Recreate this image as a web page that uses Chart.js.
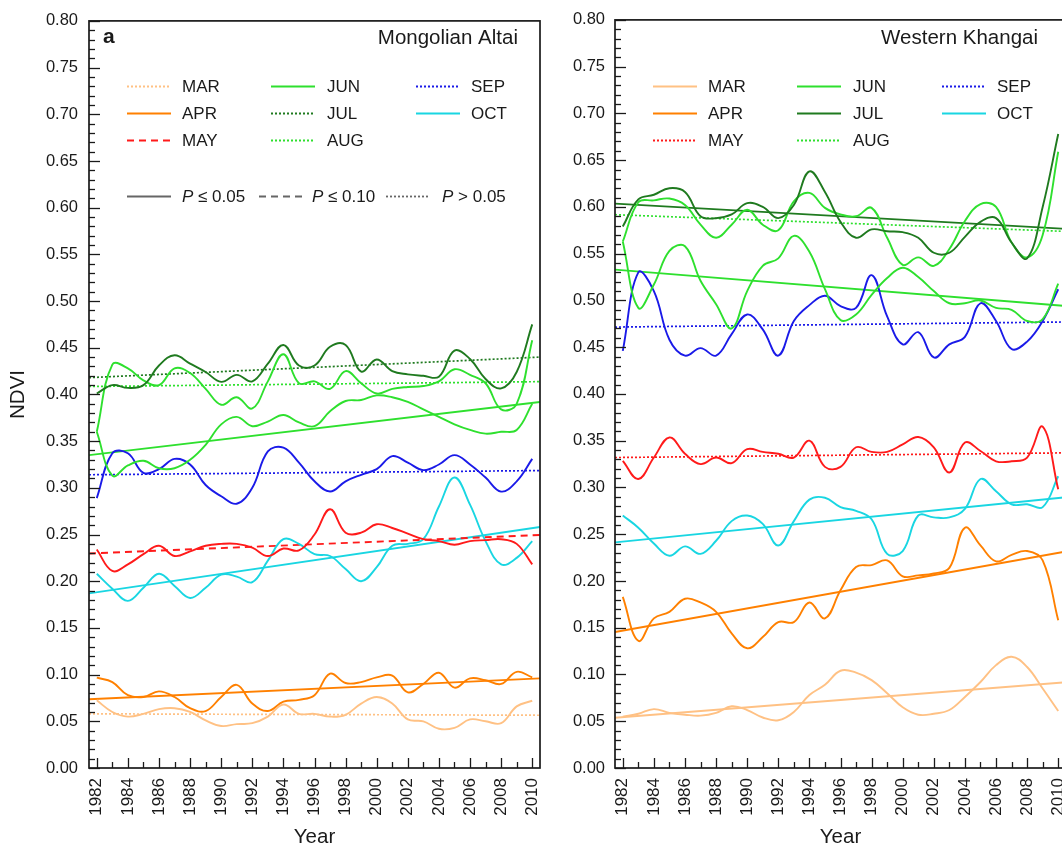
<!DOCTYPE html>
<html><head><meta charset="utf-8">
<script src="https://cdn.jsdelivr.net/npm/chart.js@4.4.1/dist/chart.umd.min.js"></script>
<style>
html,body{margin:0;padding:0;background:#fff;overflow:hidden;width:1062px;height:850px;}
#wa{position:absolute;left:0;top:0;width:570px;height:850px;}
#wb{position:absolute;left:560px;top:0;width:540px;height:850px;}
canvas{display:block;}
</style></head><body>
<div id="wa"><canvas id="ca" width="570" height="850" style="width:570px;height:850px"></canvas></div>
<div id="wb"><canvas id="cb" width="540" height="850" style="width:540px;height:850px"></canvas></div>
<script>
// ---------- DATA ----------
const years = [1982,1983,1984,1985,1986,1987,1988,1989,1990,1991,1992,1993,1994,1995,1996,1997,1998,1999,2000,2001,2002,2003,2004,2005,2006,2007,2008,2009,2010];
const tickYears = [1982,1984,1986,1988,1990,1992,1994,1996,1998,2000,2002,2004,2006,2008,2010];
const months = ['MAR','APR','MAY','JUN','JUL','AUG','SEP','OCT'];

// (a) Mongolian Altai
const marA = [0.0725,0.060,0.055,0.058,0.063,0.064,0.060,0.051,0.045,0.047,0.048,0.055,0.068,0.058,0.058,0.055,0.057,0.069,0.076,0.069,0.052,0.050,0.042,0.043,0.052,0.050,0.048,0.066,0.072];
const aprA = [0.0967,0.092,0.078,0.076,0.082,0.076,0.064,0.061,0.076,0.089,0.069,0.061,0.071,0.073,0.078,0.101,0.091,0.092,0.097,0.099,0.081,0.090,0.102,0.086,0.096,0.094,0.090,0.103,0.097];
const mayA = [0.234,0.211,0.218,0.229,0.238,0.227,0.232,0.238,0.240,0.240,0.236,0.227,0.235,0.233,0.250,0.277,0.252,0.252,0.261,0.257,0.251,0.245,0.243,0.239,0.243,0.244,0.245,0.240,0.218];
const junA = [0.360,0.313,0.324,0.329,0.321,0.321,0.330,0.346,0.368,0.376,0.366,0.371,0.378,0.370,0.366,0.382,0.393,0.394,0.399,0.397,0.392,0.384,0.376,0.368,0.362,0.358,0.360,0.362,0.390];
const julA = [0.401,0.410,0.407,0.410,0.431,0.442,0.433,0.424,0.4135,0.421,0.414,0.433,0.453,0.431,0.431,0.451,0.453,0.4245,0.4375,0.425,0.4215,0.420,0.419,0.447,0.438,0.4165,0.4065,0.424,0.475];
const augA = [0.360,0.432,0.428,0.415,0.410,0.428,0.423,0.406,0.389,0.397,0.385,0.414,0.443,0.412,0.414,0.406,0.425,0.412,0.401,0.406,0.408,0.409,0.414,0.427,0.421,0.412,0.384,0.390,0.458];
const sepA = [0.289,0.337,0.337,0.316,0.320,0.331,0.325,0.303,0.291,0.283,0.300,0.339,0.343,0.327,0.307,0.296,0.307,0.314,0.320,0.334,0.327,0.319,0.325,0.335,0.325,0.311,0.296,0.307,0.331];
const octA = [0.208,0.192,0.179,0.193,0.208,0.195,0.182,0.193,0.207,0.205,0.199,0.222,0.245,0.240,0.229,0.227,0.213,0.200,0.215,0.238,0.240,0.245,0.280,0.311,0.282,0.243,0.218,0.225,0.243];

// (b) Western Khangai
const marB = [0.055,0.058,0.063,0.059,0.057,0.056,0.059,0.066,0.062,0.054,0.051,0.060,0.078,0.089,0.104,0.102,0.094,0.080,0.065,0.057,0.058,0.062,0.076,0.092,0.110,0.119,0.108,0.085,0.061];
const aprB = [0.183,0.136,0.160,0.167,0.181,0.177,0.167,0.144,0.128,0.140,0.156,0.156,0.177,0.160,0.190,0.215,0.217,0.222,0.205,0.206,0.208,0.214,0.257,0.238,0.221,0.228,0.232,0.222,0.158];
const mayB = [0.3285,0.309,0.332,0.3535,0.336,0.325,0.332,0.326,0.341,0.338,0.336,0.332,0.350,0.322,0.322,0.343,0.338,0.338,0.346,0.354,0.343,0.316,0.348,0.339,0.328,0.328,0.332,0.365,0.298];
const junB = [0.563,0.492,0.517,0.553,0.558,0.521,0.496,0.470,0.510,0.537,0.545,0.569,0.552,0.512,0.479,0.485,0.506,0.524,0.535,0.525,0.510,0.497,0.497,0.500,0.492,0.490,0.478,0.480,0.518];
const julB = [0.579,0.608,0.613,0.620,0.616,0.590,0.588,0.592,0.604,0.600,0.588,0.602,0.638,0.616,0.584,0.567,0.576,0.574,0.573,0.567,0.551,0.551,0.568,0.584,0.588,0.562,0.545,0.600,0.678];
const augB = [0.563,0.605,0.607,0.609,0.602,0.581,0.567,0.581,0.597,0.581,0.575,0.606,0.615,0.599,0.592,0.590,0.599,0.567,0.538,0.546,0.537,0.555,0.585,0.603,0.600,0.562,0.546,0.570,0.659];
const sepB = [0.446,0.530,0.510,0.458,0.441,0.449,0.441,0.464,0.485,0.469,0.441,0.478,0.495,0.505,0.494,0.492,0.527,0.483,0.453,0.466,0.439,0.453,0.461,0.497,0.478,0.448,0.456,0.478,0.512];
const octB = [0.270,0.257,0.240,0.227,0.237,0.229,0.243,0.264,0.270,0.261,0.238,0.264,0.287,0.289,0.279,0.275,0.266,0.229,0.232,0.270,0.268,0.268,0.277,0.309,0.296,0.282,0.282,0.279,0.312];

// linear trends (value at the two ends of the year axis) and significance class
const trendYears = [1981.5, 2010.5];
const trendStartA = [0.058,0.0736,0.2297,0.335,0.418,0.4085,0.314,0.187];
const trendEndA   = [0.0565,0.096,0.2495,0.392,0.440,0.4137,0.3185,0.258];
const signifA     = ['ns','s','m','s','ns','ns','ns','s'];
const trendStartB = [0.0537,0.1454,0.332,0.533,0.6035,0.5917,0.4715,0.2413];
const trendEndB   = [0.0917,0.2315,0.337,0.494,0.5765,0.5738,0.477,0.2895];
const signifB     = ['s','s','ns','s','s','ns','ns','s'];
const sigLabels   = [['s','≤ 0.05'],['m','≤ 0.10'],['ns','> 0.05']];

// ---------- STYLE ----------
const colors = ['#FFC184','#FF8000','#FF1A1A','#2EE02E','#1F7A1F','#2EE02E','#1A1AE8','#19D6E2'];
const dashes = { s: [], m: [7,5], ns: [2,2] };
const FONT = "Arial, 'Liberation Sans', Helvetica, sans-serif";
const TXT = '#1a1a1a';

const decor = {
  id: 'decor',
  afterDraw(chart, args, o) {
    const {ctx, chartArea: ca, scales: {x, y}} = chart;
    ctx.save();
    ctx.strokeStyle = TXT; ctx.lineWidth = 1.3;
    for (let v = 0; v <= 80; v++) {
      const py = Math.round(y.getPixelForValue(v / 100)) + 0.5;
      const len = v % 5 === 0 ? 11 : 6;
      ctx.beginPath(); ctx.moveTo(ca.left, py); ctx.lineTo(ca.left + len, py); ctx.stroke();
    }
    for (const yr of years) {
      const px = Math.round(x.getPixelForValue(yr)) + 0.5;
      const len = yr % 2 === 0 ? 10 : 6;
      ctx.beginPath(); ctx.moveTo(px, ca.bottom); ctx.lineTo(px, ca.bottom - len); ctx.stroke();
    }
    ctx.lineWidth = 1.7;
    ctx.strokeRect(ca.left, ca.top, ca.right - ca.left, ca.bottom - ca.top);

    // panel letter and title
    ctx.fillStyle = TXT; ctx.textBaseline = 'middle';
    ctx.font = 'bold 21px ' + FONT; ctx.textAlign = 'left';
    ctx.fillText(o.letter, o.letterX, 37);
    ctx.font = '20.5px ' + FONT; ctx.textAlign = 'right';
    ctx.fillText(o.title, o.titleX, 38);

    // legend
    const L = ca.left;
    const colLine = [38, 182, 327], colText = [93, 238, 382], rowY = [86, 113, 140];
    ctx.textAlign = 'left'; ctx.font = '17px ' + FONT;
    months.forEach((m, i) => {
      const c = i < 3 ? 0 : (i < 6 ? 1 : 2), r = i < 3 ? i : (i < 6 ? i - 3 : i - 6);
      const yy = rowY[r] + 0.5;
      ctx.strokeStyle = colors[i]; ctx.lineWidth = 2; ctx.setLineDash(dashes[o.signif[i]]);
      ctx.beginPath(); ctx.moveTo(L + colLine[c], yy); ctx.lineTo(L + colLine[c] + 44, yy); ctx.stroke();
      ctx.setLineDash([]);
      ctx.fillStyle = TXT; ctx.fillText(m, L + colText[c], rowY[r] + 1);
    });
    if (o.showSig) {
      const lineX = [38, 170, 297], textX = [93, 223, 353];
      sigLabels.forEach(([k, t], i) => {
        ctx.strokeStyle = '#666'; ctx.lineWidth = 1.8; ctx.setLineDash(dashes[k]);
        ctx.beginPath(); ctx.moveTo(L + lineX[i], 196.5); ctx.lineTo(L + lineX[i] + 44, 196.5); ctx.stroke();
        ctx.setLineDash([]);
        ctx.fillStyle = TXT;
        ctx.font = 'italic 17px ' + FONT; ctx.fillText('P', L + textX[i], 197);
        const w = ctx.measureText('P').width;
        ctx.font = '17px ' + FONT; ctx.fillText(' ' + t, L + textX[i] + w, 197);
      });
    }
    ctx.restore();
  }
};

function build(canvasId, series, tStart, tEnd, signif, cfg) {
  const datasets = [];
  series.forEach((d, i) => {
    datasets.push({
      label: months[i], data: years.map((yr, j) => ({x: yr, y: d[j]})),
      borderColor: colors[i], borderWidth: 1.9, tension: 0.4, pointRadius: 0, fill: false
    });
  });
  series.forEach((d, i) => {
    datasets.push({
      label: months[i] + ' trend',
      data: [{x: trendYears[0], y: tStart[i]}, {x: trendYears[1], y: tEnd[i]}],
      borderColor: colors[i], borderWidth: signif[i] === 'ns' ? 1.7 : 1.9,
      borderDash: dashes[signif[i]], tension: 0, pointRadius: 0, fill: false
    });
  });
  return new Chart(document.getElementById(canvasId), {
    type: 'line',
    data: { datasets },
    options: {
      responsive: false, animation: false, devicePixelRatio: 1,
      layout: { padding: { top: 16, right: cfg.padRight, left: 0, bottom: 0 } },
      plugins: { legend: { display: false }, tooltip: { enabled: false },
        decor: { letter: cfg.letter, letterX: cfg.letterX, title: cfg.title, titleX: cfg.titleX, signif, showSig: cfg.showSig } },
      scales: {
        x: {
          type: 'linear', min: trendYears[0], max: trendYears[1],
          afterFit: s => { s.height = 82; },
          afterBuildTicks: s => { s.ticks = tickYears.map(v => ({ value: v })); },
          grid: { display: false, drawTicks: false }, border: { display: false },
          ticks: { autoSkip: false, minRotation: 90, maxRotation: 90, padding: 10, color: TXT,
            font: { family: FONT, size: 17 }, callback: v => String(v) },
          title: { display: true, text: 'Year', color: TXT, font: { family: FONT, size: 20.5 }, padding: { top: 0, bottom: 0 } }
        },
        y: {
          min: 0, max: 0.8,
          afterFit: s => { s.width = cfg.yWidth; },
          grid: { display: false, drawTicks: false }, border: { display: false },
          ticks: { stepSize: 0.05, autoSkip: false, padding: cfg.yPad, color: TXT,
            font: { family: FONT, size: 16.5 }, callback: v => (+v).toFixed(2) },
          title: { display: cfg.showYTitle, text: 'NDVI', color: TXT, font: { family: FONT, size: 20.5 }, padding: { top: 6, bottom: 0 } }
        }
      }
    },
    plugins: [decor]
  });
}

build('ca', [marA, aprA, mayA, junA, julA, augA, sepA, octA], trendStartA, trendEndA, signifA,
  { padRight: 30, yWidth: 89, yPad: 11, showYTitle: true, letter: 'a', letterX: 103, title: 'Mongolian Altai', titleX: 518, showSig: true });
build('cb', [marB, aprB, mayB, junB, julB, augB, sepB, octB], trendStartB, trendEndB, signifB,
  { padRight: 34, yWidth: 55, yPad: 10, showYTitle: false, letter: 'b', letterX: 634, title: 'Western Khangai', titleX: 478, showSig: false });
</script>
</body></html>
